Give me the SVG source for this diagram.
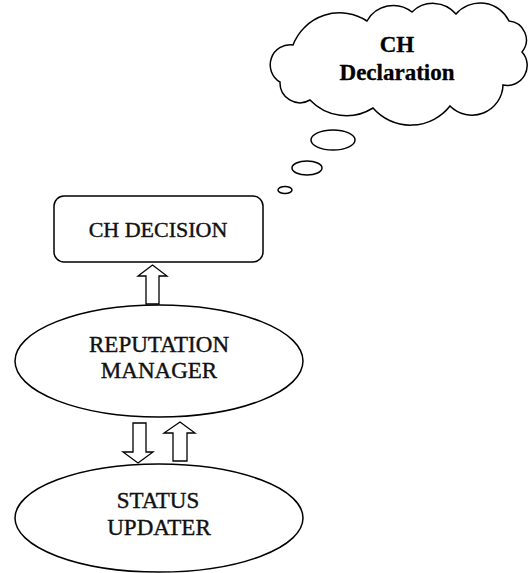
<svg xmlns="http://www.w3.org/2000/svg" width="531" height="573" viewBox="0 0 531 573">
<style>
.shape{fill:#fff;stroke:#000;stroke-width:1.5}
.arrow{fill:#fff;stroke:#000;stroke-width:1.3;stroke-linejoin:miter}
.lbl{font-family:"Liberation Serif","Times New Roman",serif;font-size:23px;fill:#111;stroke:#111;stroke-width:0.4;text-anchor:middle}
.cl{font-family:"Liberation Serif","Times New Roman",serif;font-size:23px;font-weight:bold;fill:#000;stroke:#000;stroke-width:0.3;text-anchor:middle}
</style>
<rect width="531" height="573" fill="#fff"/>
<g id="cloud">
<path class="shape" d="M280,82 A20,20 0 0 1 293,45 A50,50 0 0 1 367,21 A30,30 0 0 1 412,12 A30,30 0 0 1 456,14 A32,32 0 0 1 509,21 A19,19 0 0 1 522,52 A20,20 0 0 1 503,85 A31,31 0 0 1 450,106 A50,50 0 0 1 373,108 A50,50 0 0 1 310,100 A20,20 0 0 1 280,82 Z"/>
<text class="cl" x="397" y="52">CH</text>
<text class="cl" x="397" y="80">Declaration</text>
</g>
<g id="bubbles">
<ellipse class="shape" cx="333" cy="140" rx="22" ry="10"/>
<ellipse class="shape" cx="307" cy="168" rx="15" ry="7"/>
<ellipse class="shape" cx="285" cy="190" rx="7" ry="3.5"/>
</g>
<g id="ch-decision">
<rect class="shape" x="54" y="196" width="209" height="66" rx="10" ry="10"/>
<text class="lbl" x="158" y="237" style="font-size:22px">CH DECISION</text>
</g>
<g id="reputation-manager">
<ellipse class="shape" cx="159" cy="361" rx="144" ry="56"/>
<text class="lbl" x="159" y="352">REPUTATION</text>
<text class="lbl" x="159" y="378">MANAGER</text>
</g>
<g id="status-updater">
<ellipse class="shape" cx="159" cy="518" rx="144" ry="54"/>
<text class="lbl" x="158" y="508">STATUS</text>
<text class="lbl" x="159" y="535">UPDATER</text>
</g>
<g id="connectors">
<path class="arrow" d="M146,304 L146,276 L138,276 L152.5,265 L167,276 L159,276 L159,304 Z"/>
<path class="arrow" d="M133,423 L146,423 L146,452 L153,452 L138,463 L123,452 L133,452 Z"/>
<path class="arrow" d="M173,461 L173,433 L164,433 L180,422 L195,433 L187,433 L187,461 Z"/>
</g>
</svg>
